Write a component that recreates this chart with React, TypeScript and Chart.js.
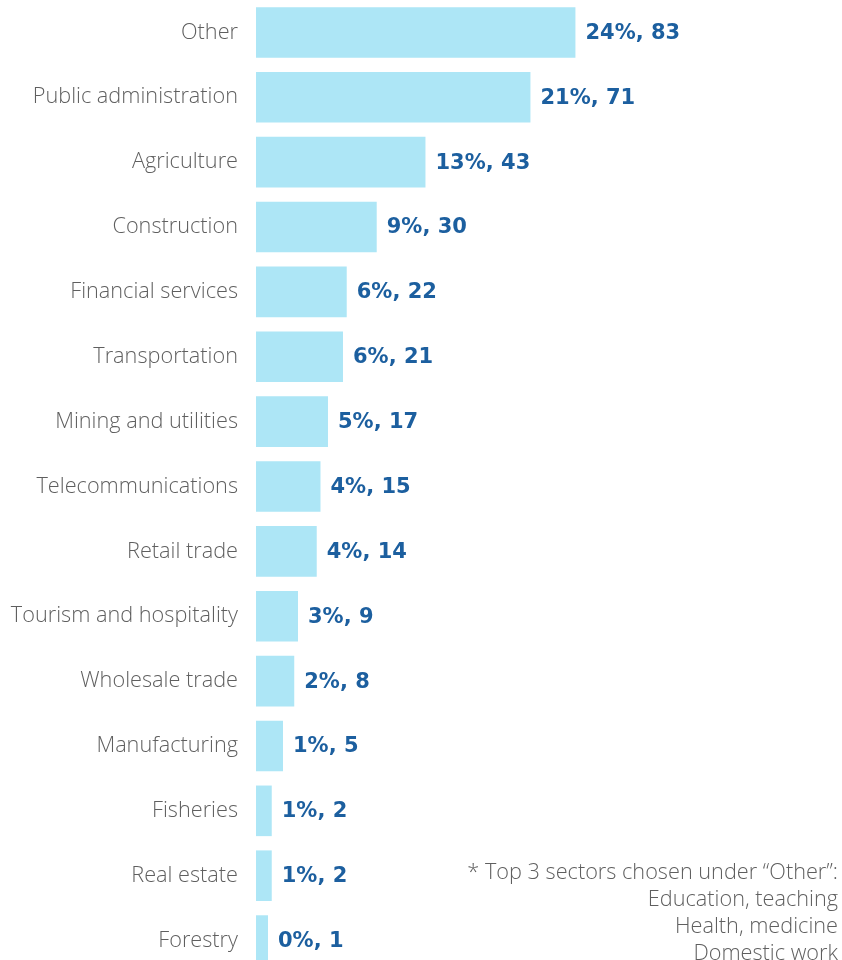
import React, { useEffect, useRef } from "react";
import { Chart, registerables } from "chart.js";

Chart.register(...registerables);

const categories = [
  "Other",
  "Public administration",
  "Agriculture",
  "Construction",
  "Financial services",
  "Transportation",
  "Mining and utilities",
  "Telecommunications",
  "Retail trade",
  "Tourism and hospitality",
  "Wholesale trade",
  "Manufacturing",
  "Fisheries",
  "Real estate",
  "Forestry",
];
const counts = [83, 71, 43, 30, 22, 21, 17, 15, 14, 9, 8, 5, 2, 2, 1];
const percents = [24, 21, 13, 9, 6, 6, 5, 4, 4, 3, 2, 1, 1, 1, 0];
const footnoteLines = [
  "* Top 3 sectors chosen under \u201cOther\u201d:",
  "Education, teaching",
  "Health, medicine",
  "Domestic work",
];

const X_MIN = -2.2;
const X_MAX = 154.1;

const valueLabelPlugin = {
  id: "valueLabels",
  afterDatasetsDraw(chart: any) {
    const { ctx } = chart;
    const meta = chart.getDatasetMeta(0);
    ctx.save();
    ctx.font = "bold 21px 'DejaVu Sans'";
    ctx.fillStyle = "#1c5f9f";
    ctx.textAlign = "left";
    ctx.textBaseline = "middle";
    meta.data.forEach((bar: any, i: number) => {
      ctx.fillText(`${percents[i]}%, ${counts[i]}`, bar.x + 10, bar.y + 1);
    });
    ctx.restore();
  },
};

export default function App() {
  const canvasRef = useRef<HTMLCanvasElement | null>(null);

  useEffect(() => {
    if (!canvasRef.current) return;
    const chart = new Chart(canvasRef.current, {
      type: "bar",
      data: {
        labels: categories,
        datasets: [
          {
            data: counts,
            base: X_MIN,
            backgroundColor: "#ade6f6",
            borderWidth: 0,
            barPercentage: 0.78,
            categoryPercentage: 1,
          } as any,
        ],
      },
      options: {
        indexAxis: "y",
        animation: false,
        responsive: false,
        maintainAspectRatio: false,
        layout: { padding: 0 },
        plugins: {
          legend: { display: false },
          tooltip: { enabled: false },
          title: { display: false },
        },
        scales: {
          x: {
            display: false,
            min: X_MIN,
            max: X_MAX,
          },
          y: {
            afterFit: (scale: any) => {
              scale.width = 256;
              scale.paddingTop = 0;
              scale.paddingBottom = 0;
            },
            grid: { display: false, drawTicks: true, tickLength: 18 },
            border: { display: false },
            ticks: {
              padding: 0,
              color: "#5f5f5f",
              font: { family: "'Open Sans'", size: 21.7, weight: "300", lineHeight: 0.01 },
            },
          },
        },
      },
      plugins: [valueLabelPlugin],
    });
    return () => chart.destroy();
  }, []);

  return (
    <div
      style={{
        position: "fixed",
        left: 0,
        top: 0,
        width: 842,
        height: 960,
        overflow: "hidden",
        background: "#ffffff",
      }}
    >
      <canvas
        ref={canvasRef}
        width={842}
        height={973}
        style={{ position: "absolute", left: 0, top: 0, width: 842, height: 973 }}
      />
      <div
        style={{
          position: "absolute",
          right: 4,
          top: 857,
          textAlign: "right",
          fontFamily: "'Open Sans'",
          fontWeight: 300,
          fontSize: 21.7,
          lineHeight: "27px",
          color: "#5f5f5f",
          whiteSpace: "nowrap",
        }}
      >
        {footnoteLines.map((line, i) => (
          <div key={i}>{line}</div>
        ))}
      </div>
    </div>
  );
}
